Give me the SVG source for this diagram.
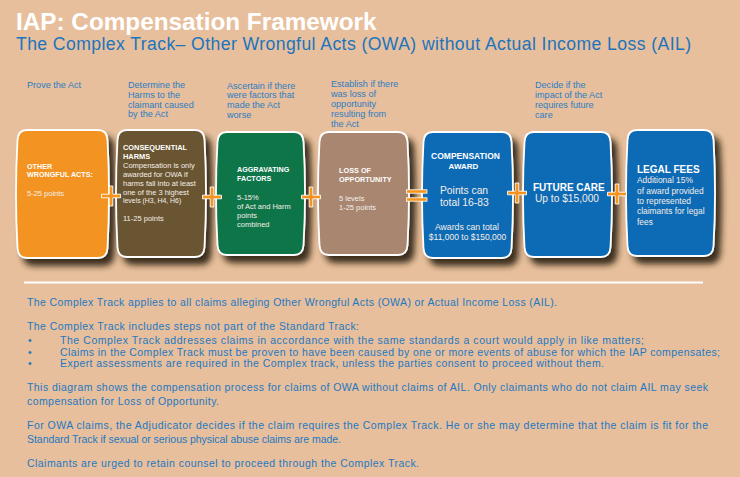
<svg xmlns="http://www.w3.org/2000/svg" xmlns:xlink="http://www.w3.org/1999/xlink" width="740" height="477" viewBox="0 0 740 477">
<defs>
<filter id="sh" x="-20%" y="-20%" width="150%" height="150%">
<feDropShadow dx="6" dy="7" stdDeviation="3.2" flood-color="#2a1a0c" flood-opacity="0.9"/>
</filter>
<path id="plus" d="M-9.5 -1.8 H-1.8 V-10 H1.8 V-1.8 H9.5 V1.8 H1.8 V10 H-1.8 V1.8 H-9.5 Z" fill="#F7941D" stroke="#ffffff" stroke-width="0.9"/>
</defs>
<style>
.title{font-family:"Liberation Sans",Arial,sans-serif;font-weight:bold;font-size:24.3px;fill:#ffffff}
.sub{font-family:"Liberation Sans",Arial,sans-serif;font-size:17.6px;fill:#1B74BE}
.step{font-family:"Liberation Sans",Arial,sans-serif;font-size:9.1px;fill:#2C7DC3}
.hd{font-family:"Liberation Sans",Arial,sans-serif;font-weight:bold;font-size:7.2px;fill:#ffffff}
.bd{font-family:"Liberation Sans",Arial,sans-serif;font-size:7.5px;fill:#F4EEE8}
.node{stroke:#ffffff;stroke-width:1.8;filter:url(#sh)}
.txt{font-family:"Liberation Sans",Arial,sans-serif;font-size:10.5px;fill:#1E78C2}
</style>
<rect x="0" y="0" width="740" height="477" fill="#E7BF9C"/>
<text class="title" x="16" y="30">IAP: Compensation Framework</text>
<text class="sub" x="16" y="50" textLength="675">The Complex Track– Other Wrongful Acts (OWA) without Actual Income Loss (AIL)</text>

<g id="step-labels">
<text class="step" x="27" y="88">Prove the Act</text>
<text class="step" x="128" y="88">Determine the</text>
<text class="step" x="128" y="98">Harms to the</text>
<text class="step" x="128" y="107.5">claimant caused</text>
<text class="step" x="128" y="117">by the Act</text>
<text class="step" x="227" y="88.5">Ascertain if there</text>
<text class="step" x="227" y="98">were factors that</text>
<text class="step" x="227" y="107.5">made the Act</text>
<text class="step" x="227" y="117.5">worse</text>
<text class="step" x="331" y="87">Establish if there</text>
<text class="step" x="331" y="96.5">was loss of</text>
<text class="step" x="331" y="106.5">opportunity</text>
<text class="step" x="331" y="116.5">resulting from</text>
<text class="step" x="331" y="126.5">the Act</text>
<text class="step" x="535" y="88">Decide if the</text>
<text class="step" x="535" y="97.5">impact of the Act</text>
<text class="step" x="535" y="107.5">requires future</text>
<text class="step" x="535" y="117.5">care</text>
</g>

<g id="node-owa">
<path class="node" fill="#F39422" d="M27 130 H98 Q107 130 107.5 140 Q110.5 194 107.5 248 Q107 258 98 258 H27 Q18 258 17.5 248 Q14.5 194 17.5 140 Q18 130 27 130Z"/>
<text class="hd" x="27" y="168.5">OTHER</text>
<text class="hd" x="27" y="177">WRONGFUL ACTS:</text>
<text class="bd" x="27" y="195.5">5-25 points</text>
</g>

<g id="node-harms">
<path class="node" fill="#6A5432" d="M127 130 H195 Q204 130 204.5 140 Q207.5 193.5 204.5 247 Q204 257 195 257 H127 Q118 257 117.5 247 Q114.5 193.5 117.5 140 Q118 130 127 130Z"/>
<text class="hd" x="123" y="149.5" style="font-size:7.4px">CONSEQUENTIAL</text>
<text class="hd" x="123" y="159" style="font-size:7.4px">HARMS</text>
<text class="bd" x="123" y="168">Compensation is only</text>
<text class="bd" x="123" y="177">awarded for OWA if</text>
<text class="bd" x="123" y="186">harms fall into at least</text>
<text class="bd" x="123" y="195">one of the 3 highest</text>
<text class="bd" x="123" y="203" style="font-size:6.9px">levels (H3, H4, H6)</text>
<text class="bd" x="123" y="221">11-25 points</text>
</g>

<g id="node-aggravating">
<path class="node" fill="#0B7446" d="M227 132 H294 Q303 132 303.5 142 Q306.5 193.5 303.5 245 Q303 255 294 255 H227 Q218 255 217.5 245 Q214.5 193.5 217.5 142 Q218 132 227 132Z"/>
<text class="hd" x="237" y="172">AGGRAVATING</text>
<text class="hd" x="237" y="181">FACTORS</text>
<text class="bd" x="237" y="199.5">5-15%</text>
<text class="bd" x="237" y="208.5">of Act and Harm</text>
<text class="bd" x="237" y="217.8">points</text>
<text class="bd" x="237" y="226.8">combined</text>
</g>

<g id="node-opportunity">
<path class="node" fill="#A8866F" d="M329 132 H398 Q407 132 407.5 142 Q410.5 193.5 407.5 245 Q407 255 398 255 H329 Q320 255 319.5 245 Q316.5 193.5 319.5 142 Q320 132 329 132Z"/>
<text class="hd" x="339" y="172.7" style="font-size:7.3px">LOSS OF</text>
<text class="hd" x="339" y="182" style="font-size:7.3px">OPPORTUNITY</text>
<text class="bd" x="339" y="200.5">5 levels</text>
<text class="bd" x="339" y="209.5">1-25 points</text>
</g>

<g id="node-award">
<path class="node" fill="#0A6BB5" d="M433 132 H502 Q511 132 511.5 142 Q514.5 195 511.5 248 Q511 258 502 258 H433 Q424 258 423.5 248 Q420.5 195 423.5 142 Q424 132 433 132Z"/>
<text class="hd" x="465.5" y="158.5" text-anchor="middle" style="font-size:8.5px">COMPENSATION</text>
<text class="hd" x="463.5" y="168.5" text-anchor="middle" style="font-size:8px">AWARD</text>
<text class="bd" x="440" y="194" style="font-size:10.3px">Points can</text>
<text class="bd" x="440" y="205.5" style="font-size:10.3px">total 16-83</text>
<text class="bd" x="467" y="229.7" text-anchor="middle" style="font-size:8.7px">Awards can total</text>
<text class="bd" x="467.5" y="239.7" text-anchor="middle" style="font-size:8.5px">$11,000 to $150,000</text>
</g>

<g id="node-future-care">
<path class="node" fill="#0A6BB5" d="M534 132 H601 Q610 132 610.5 142 Q613.5 194.5 610.5 247 Q610 257 601 257 H534 Q525 257 524.5 247 Q521.5 194.5 524.5 142 Q525 132 534 132Z"/>
<text class="hd" x="533" y="190.5" style="font-size:10px">FUTURE CARE</text>
<text class="bd" x="535" y="202" style="font-size:10.2px">Up to $15,000</text>
</g>

<g id="node-legal-fees">
<path class="node" fill="#0A6BB5" d="M637 130 H704 Q713 130 713.5 140 Q716.5 193 713.5 246 Q713 256 704 256 H637 Q628 256 627.5 246 Q624.5 193 627.5 140 Q628 130 637 130Z"/>
<text class="hd" x="637" y="173" style="font-size:10px">LEGAL FEES</text>
<text class="bd" x="637" y="183" style="font-size:8.4px">Additional 15%</text>
<text class="bd" x="637" y="194" style="font-size:8.4px">of award provided</text>
<text class="bd" x="637" y="204" style="font-size:8.4px">to represented</text>
<text class="bd" x="637" y="214" style="font-size:8.4px">claimants for legal</text>
<text class="bd" x="637" y="225" style="font-size:8.4px">fees</text>
</g>

<g id="connectors">
<use xlink:href="#plus" href="#plus" x="111" y="196"/>
<use xlink:href="#plus" href="#plus" x="212" y="197"/>
<use xlink:href="#plus" href="#plus" x="311" y="197"/>
<rect x="406.5" y="189.8" width="20.5" height="3.4" fill="#F7941D" stroke="#ffffff" stroke-width="0.8"/>
<rect x="406.5" y="197.8" width="20.5" height="3.4" fill="#F7941D" stroke="#ffffff" stroke-width="0.8"/>
<use xlink:href="#plus" href="#plus" x="517" y="193"/>
<use xlink:href="#plus" href="#plus" x="617" y="194"/>
</g>

<line x1="24" y1="282.5" x2="703" y2="282.5" stroke="#ffffff" stroke-width="2"/>

<g id="notes">
<text class="txt" x="27" y="306" textLength="530">The Complex Track applies to all claims alleging Other Wrongful Acts (OWA) or Actual Income Loss (AIL).</text>
<text class="txt" x="27" y="330" textLength="332">The Complex Track includes steps not part of the Standard Track:</text>
<text class="txt" x="28" y="344">•</text>
<text class="txt" x="60" y="344" textLength="584">The Complex Track addresses claims in accordance with the same standards a court would apply in like matters;</text>
<text class="txt" x="28" y="355.5">•</text>
<text class="txt" x="60" y="355.5" textLength="660">Claims in the Complex Track must be proven to have been caused by one or more events of abuse for which the IAP compensates;</text>
<text class="txt" x="28" y="367">•</text>
<text class="txt" x="60" y="367" textLength="544">Expert assessments are required in the Complex track, unless the parties consent to proceed without them.</text>
<text class="txt" x="27" y="391" textLength="681">This diagram shows the compensation process for claims of OWA without claims of AIL. Only claimants who do not claim AIL may seek</text>
<text class="txt" x="27" y="405" textLength="192">compensation for Loss of Opportunity.</text>
<text class="txt" x="27" y="429" textLength="681">For OWA claims, the Adjudicator decides if the claim requires the Complex Track.  He or she may determine that the claim is fit for the</text>
<text class="txt" x="27" y="443" textLength="314">Standard Track if sexual or serious physical abuse claims are made.</text>
<text class="txt" x="27" y="467" textLength="392">Claimants are urged to retain counsel to proceed through the Complex Track.</text>
</g>
</svg>
